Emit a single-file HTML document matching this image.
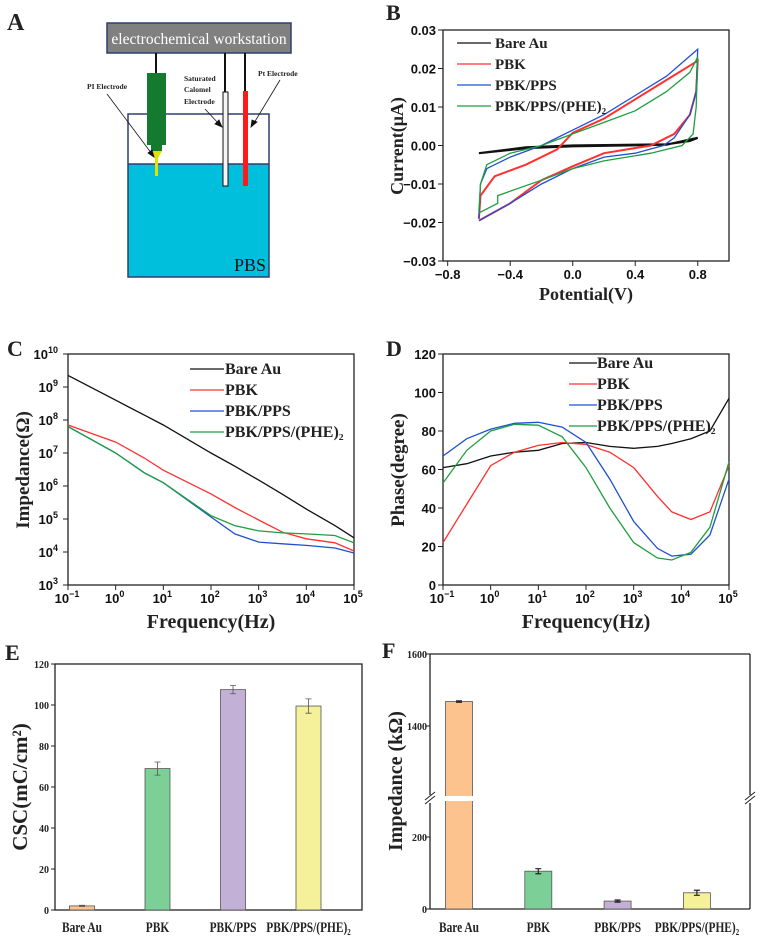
<!DOCTYPE html>
<html><head><meta charset="utf-8"><style>
body{margin:0;background:#fff}
svg{display:block}
.t{font-family:"Liberation Sans",sans-serif;font-weight:bold;font-size:13px;fill:#111}
.s{font-family:"Liberation Serif",serif;font-weight:bold;fill:#222}
</style></head><body>
<svg id="fig" width="769" height="940" viewBox="0 0 769 940" xmlns="http://www.w3.org/2000/svg">
<!-- Panel A -->
<g>
<text x="7" y="30" class="s" font-size="24">A</text>
<rect x="107" y="23" width="184" height="30" fill="#808080" stroke="#2e3f6e" stroke-width="1.5"/>
<text x="199" y="44" text-anchor="middle" font-family="Liberation Serif,serif" font-size="15.5" fill="#fff">electrochemical workstation</text>
<rect x="128" y="164" width="141" height="113" fill="#00bfdd"/>
<rect x="128" y="114" width="141" height="163" fill="none" stroke="#2e3f6e" stroke-width="1.5"/>
<line x1="128" y1="164" x2="269" y2="164" stroke="#2e3f6e" stroke-width="1.5"/>
<text x="266" y="271" text-anchor="end" font-family="Liberation Serif,serif" font-size="18" fill="#111">PBS</text>
<line x1="156" y1="53" x2="156" y2="73" stroke="#111" stroke-width="2"/>
<line x1="225" y1="53" x2="225" y2="92" stroke="#111" stroke-width="2"/>
<line x1="245" y1="53" x2="245" y2="91" stroke="#111" stroke-width="2"/>
<path d="M147 73 H166 V145 H162 V151 H151 V145 H147 Z" fill="#137a2e"/>
<path d="M151 151 H162 L158 158 V176 H155 V158 Z" fill="#e6e000"/>
<rect x="223" y="92" width="5" height="94" fill="#f5f5f5" stroke="#111" stroke-width="1"/>
<rect x="243" y="91" width="5" height="95" fill="#ff1a1a"/>
<g class="s" font-size="7.5">
<text x="87" y="89">PI Electrode</text>
<text x="184" y="81">Saturated</text><text x="184" y="92">Calomel</text><text x="184" y="104">Electrode</text>
<text x="258" y="76">Pt Electrode</text>
</g>
<g stroke="#111" stroke-width="0.8" fill="#111">
<line x1="107" y1="94" x2="152" y2="154"/><path d="M154 157 L148 153 L152 150 Z"/>
<line x1="205" y1="109" x2="219" y2="124"/><path d="M222 127 L215 124 L219 120 Z"/>
<line x1="280" y1="80" x2="254" y2="123"/><path d="M251 127 L252 120 L257 122 Z"/>
</g>
</g>

<g id="pB"></g>
<g id="pC"></g>
<g id="pD"></g>
<g id="pE"></g>
<g id="pF"></g>
</svg>
<script>
// ---------- data ----------
const seriesNames = ["Bare Au","PBK","PBK/PPS","PBK/PPS/(PHE)₂"];
const seriesColors = ["#111111","#ff3030","#2050d0","#1f9e40"];
// B: CV loops [potential, current]
const cvBare = [[-0.6,-0.002],[-0.3,-0.0005],[0,0],[0.6,0.0003],[0.75,0.0012],[0.8,0.002],[0.6,0.0002],[0,-0.0002],[-0.3,-0.0007],[-0.6,-0.002]];
const cvPBK = [[-0.6,-0.019],[-0.59,-0.013],[-0.5,-0.008],[-0.3,-0.005],[-0.1,-0.001],[0,0.0033],[0.2,0.007],[0.4,0.012],[0.6,0.017],[0.8,0.022],[0.79,0.014],[0.75,0.008],[0.65,0.003],[0.5,0],[0.2,-0.002],[0,-0.0054],[-0.2,-0.009],[-0.4,-0.015],[-0.6,-0.0195]];
const cvPPS = [[-0.6,-0.019],[-0.59,-0.01],[-0.55,-0.006],[-0.4,-0.003],[-0.2,0],[0,0.004],[0.2,0.008],[0.4,0.013],[0.6,0.018],[0.8,0.025],[0.79,0.014],[0.75,0.008],[0.65,0.002],[0.58,0],[0.4,-0.002],[0.2,-0.003],[0,-0.006],[-0.2,-0.01],[-0.4,-0.015],[-0.6,-0.0195]];
const cvPHE = [[-0.6,-0.017],[-0.59,-0.01],[-0.55,-0.005],[-0.4,-0.002],[-0.2,0],[0,0.003],[0.2,0.006],[0.4,0.009],[0.6,0.014],[0.75,0.019],[0.8,0.023],[0.79,0.01],[0.77,0.003],[0.7,0],[0.5,-0.002],[0.2,-0.004],[0,-0.006],[-0.2,-0.009],[-0.48,-0.013],[-0.48,-0.015],[-0.6,-0.0175]];
const cvTicksX = [-0.8,-0.4,0,0.4,0.8];
const cvTicksY = [0.03,0.02,0.01,0,-0.01,-0.02,-0.03];
// C: log10 frequency, log10 impedance
const logF = [-1,0,0.6,1,2,2.5,3,3.5,4,4.6,5];
const zBare = [9.35,8.6,8.15,7.85,7.0,6.6,6.18,5.75,5.3,4.8,4.43];
const zPBK = [7.85,7.33,6.85,6.48,5.76,5.35,4.97,4.6,4.4,4.28,4.03];
const zPPS = [7.8,7.0,6.4,6.1,5.06,4.55,4.3,4.25,4.2,4.12,3.97];
const zPHE = [7.8,7.0,6.4,6.1,5.1,4.8,4.64,4.58,4.55,4.5,4.28];
const decadeTicks = [-1,0,1,2,3,4,5];
const zTicks = [3,4,5,6,7,8,9,10];
// D: phase
const logF2 = [-1,-0.5,0,0.5,1,1.5,2,2.5,3,3.5,3.8,4.2,4.6,5];
const phBare = [61,63,67,69,70,73.5,74,72,71,72,73.5,76,80,97];
const phPBK = [22,42,62,69,72.5,74,73,69,61,46,38,34,38,62];
const phPPS = [67,76,81,84,84.5,82,74,55,33,19,15,16,26,55];
const phPHE = [53,70,80,83.5,83,77,61,40,22,14,13,17,30,64];
const phTicks = [0,20,40,60,80,100,120];
// E: CSC bars
const barCats = ["Bare Au","PBK","PBK/PPS","PBK/PPS/(PHE)₂"];
const barColors = ["#fdc38e","#7dcf98","#c3b0d6","#f5f19b"];
const cscVals = [2,69,107.5,99.5];
const cscErr = [0.3,3.2,2,3.5];
const cscTicks = [0,20,40,60,80,100,120];
// F: impedance bars (kΩ)
const impVals = [1468,105,22,45];
const impErr = [2,7,3,7];
const impTicksLow = [0,200];
const impTicksHigh = [1400,1600];

// ---------- helpers ----------
const NS="http://www.w3.org/2000/svg";
function mk(parent,tag,attrs,txt){const e=document.createElementNS(NS,tag);for(const k in attrs)e.setAttribute(k,attrs[k]);if(txt!==undefined)e.textContent=txt;parent.appendChild(e);return e;}
function lin(d0,d1,r0,r1){return v=>r0+(v-d0)/(d1-d0)*(r1-r0);}
function pathOf(pts,sx,sy){return pts.map((p,i)=>(i?"L":"M")+sx(p[0]).toFixed(1)+" "+sy(p[1]).toFixed(1)).join(" ");}
function box(g,x0,y0,x1,y1){const r=mk(g,"rect",{x:x0,y:y0,width:x1-x0,height:y1-y0,fill:"none",stroke:"#222","stroke-width":1.3});}
function zip(a,b){return a.map((v,i)=>[v,b[i]]);}
function legend(g,x0,x1,tx,ys,fs){seriesNames.forEach((n,i)=>{const le=mk(g,"g",{});


mk(le,"line",{x1:x0,x2:x1,y1:ys[i]-5,y2:ys[i]-5,stroke:seriesColors[i],"stroke-width":1.3});
mk(le,"text",{x:tx,y:ys[i],class:"s","font-size":fs},n);});}
function powLabel(g,x,y,e,anchor){const t=mk(g,"text",{x:x,y:y,class:"t","text-anchor":anchor});
mk(t,"tspan",{},"10");mk(t,"tspan",{dy:-6,"font-size":9},String(e).replace("-","−"));}
function catLabel(g,x,i){const w=mk(g,"g",{transform:`translate(${x},932) scale(0.76,1)`});const t=mk(w,"text",{x:0,y:0,class:"s","font-size":15,"text-anchor":"middle"},barCats[i]);}

// ---------- B ----------
(function(){const g=document.getElementById("pB");
const sx=lin(-0.83,1.0,443,729), sy=lin(0.03,-0.03,30,261);
mk(g,"text",{x:386,y:20,class:"s","font-size":22},"B");
box(g,443,30,729,261);
cvTicksX.forEach(v=>{mk(g,"line",{x1:sx(v),x2:sx(v),y1:261,y2:266,stroke:"#222"});const t=mk(g,"text",{x:sx(v),y:279,class:"t","text-anchor":"middle"},(v<0?"−":"")+Math.abs(v).toFixed(1));});
cvTicksY.forEach(v=>{mk(g,"line",{x1:438,x2:443,y1:sy(v),y2:sy(v),stroke:"#222"});const t=mk(g,"text",{x:436,y:sy(v)+5,class:"t","text-anchor":"end"},(v<0?"−":"")+Math.abs(v).toFixed(2));});
[cvBare,cvPBK,cvPPS,cvPHE].forEach((d,i)=>{const p=mk(g,"path",{d:pathOf(d,sx,sy),fill:"none",stroke:seriesColors[i],"stroke-width":i==0?2.2:(i==1?2:1.3)});

});
legend(g,457,491,495,[48,69,90,111],15);
mk(g,"text",{x:586,y:300,class:"s","font-size":18,"text-anchor":"middle"},"Potential(V)");
mk(g,"text",{transform:"translate(403,146) rotate(-90)",class:"s","font-size":18,"text-anchor":"middle"},"Current(μA)");
})();

// ---------- C ----------
(function(){const g=document.getElementById("pC");
const sx=lin(-1,5,68,354), sy=lin(10,3,354,585);
mk(g,"text",{x:7,y:356,class:"s","font-size":22},"C");
box(g,68,354,354,585);
decadeTicks.forEach(v=>{mk(g,"line",{x1:sx(v),x2:sx(v),y1:585,y2:590,stroke:"#222"});powLabel(g,sx(v)-1,603,v,"middle");});
zTicks.forEach(v=>{mk(g,"line",{x1:63,x2:68,y1:sy(v),y2:sy(v),stroke:"#222"});powLabel(g,58,sy(v)+5,v,"end");});
[zBare,zPBK,zPPS,zPHE].forEach((d,i)=>{const p=mk(g,"path",{d:pathOf(zip(logF,d),sx,sy),fill:"none",stroke:seriesColors[i],"stroke-width":1.3});

});
legend(g,190,224,225,[374,395,416,437],16);
mk(g,"text",{x:211,y:628,class:"s","font-size":20,"text-anchor":"middle"},"Frequency(Hz)");
mk(g,"text",{transform:"translate(29,470) rotate(-90)",class:"s","font-size":19,"text-anchor":"middle"},"Impedance(Ω)");
})();

// ---------- D ----------
(function(){const g=document.getElementById("pD");
const sx=lin(-1,5,443,729), sy=lin(0,120,585,354);
mk(g,"text",{x:386,y:356,class:"s","font-size":22},"D");
box(g,443,354,729,585);
decadeTicks.forEach(v=>{mk(g,"line",{x1:sx(v),x2:sx(v),y1:585,y2:590,stroke:"#222"});powLabel(g,sx(v)-1,603,v,"middle");});
phTicks.forEach(v=>{mk(g,"line",{x1:438,x2:443,y1:sy(v),y2:sy(v),stroke:"#222"});const t=mk(g,"text",{x:436,y:sy(v)+5,class:"t","text-anchor":"end"},v);});
[phBare,phPBK,phPPS,phPHE].forEach((d,i)=>{const p=mk(g,"path",{d:pathOf(zip(logF2,d),sx,sy),fill:"none",stroke:seriesColors[i],"stroke-width":1.3});

});
legend(g,569,597,597,[368,389,410,431],16);
mk(g,"text",{x:586,y:628,class:"s","font-size":20,"text-anchor":"middle"},"Frequency(Hz)");
mk(g,"text",{transform:"translate(404,470) rotate(-90)",class:"s","font-size":19,"text-anchor":"middle"},"Phase(degree)");
})();

// ---------- E ----------
(function(){const g=document.getElementById("pE");
const sy=lin(0,120,910,664); const cx=i=>82+i*75.5; const bw=25;
mk(g,"text",{x:5,y:660,class:"s","font-size":22},"E");
box(g,55,664,362,910);
cscTicks.forEach(v=>{mk(g,"line",{x1:51,x2:55,y1:sy(v),y2:sy(v),stroke:"#222"});mk(g,"text",{x:49,y:sy(v)+4,class:"s","font-size":10,"text-anchor":"end"},v);});
cscVals.forEach((v,i)=>{const r=mk(g,"rect",{x:cx(i)-bw/2,y:sy(v),width:bw,height:910-sy(v),fill:barColors[i],stroke:"#555","stroke-width":0.8});


const e=cscErr[i];mk(g,"path",{d:`M${cx(i)} ${sy(v+e)} V${sy(v-e)} M${cx(i)-3} ${sy(v+e)} H${cx(i)+3} M${cx(i)-3} ${sy(v-e)} H${cx(i)+3}`,stroke:"#555","stroke-width":0.8,fill:"none"});
catLabel(g,cx(i),i);});
mk(g,"text",{transform:"translate(27,787) rotate(-90)",class:"s","font-size":21,"text-anchor":"middle"},"CSC(mC/cm²)");
})();

// ---------- F ----------
(function(){const g=document.getElementById("pF");
const syL=lin(0,200,909,837), syH=lin(1400,1600,726,654);
const sy=v=>v<=300?syL(v):syH(v);
const cx=i=>459+i*79.3; const bw=27; const L=430,R=750;
mk(g,"text",{x:382,y:658,class:"s","font-size":22},"F");
mk(g,"path",{d:`M${L} 654 H${R} M${L} 909 H${R} M${L} 654 V795 M${L} 803 V909 M${R} 654 V795 M${R} 803 V909`,stroke:"#222","stroke-width":1.3,fill:"none"});
impTicksLow.forEach(v=>{mk(g,"line",{x1:L-4,x2:L,y1:syL(v),y2:syL(v),stroke:"#222"});mk(g,"text",{x:L-3,y:syL(v)+4,class:"s","font-size":10,"text-anchor":"end"},v);});
impTicksHigh.forEach(v=>{mk(g,"line",{x1:L-4,x2:L,y1:syH(v),y2:syH(v),stroke:"#222"});mk(g,"text",{x:L-3,y:syH(v)+4,class:"s","font-size":10,"text-anchor":"end"},v);});
impVals.forEach((v,i)=>{const r=mk(g,"rect",{x:cx(i)-bw/2,y:sy(v),width:bw,height:909-sy(v),fill:barColors[i],stroke:"#555","stroke-width":0.8});


const e=impErr[i];mk(g,"path",{d:`M${cx(i)} ${sy(v+e)} V${sy(v-e)} M${cx(i)-3} ${sy(v+e)} H${cx(i)+3} M${cx(i)-3} ${sy(v-e)} H${cx(i)+3}`,stroke:"#222","stroke-width":1.2,fill:"none"});
catLabel(g,cx(i),i);});
mk(g,"rect",{x:L-6,y:796,width:R-L+14,height:5,fill:"#fff"});
mk(g,"path",{d:`M${L-5} 800 L${L+5} 792 M${L-5} 804 L${L+5} 796 M${R-5} 800 L${R+5} 792 M${R-5} 804 L${R+5} 796`,stroke:"#222","stroke-width":1});
mk(g,"text",{transform:"translate(402,781) rotate(-90)",class:"s","font-size":20,"text-anchor":"middle"},"Impedance (kΩ)");
})();
</script>
</body></html>
